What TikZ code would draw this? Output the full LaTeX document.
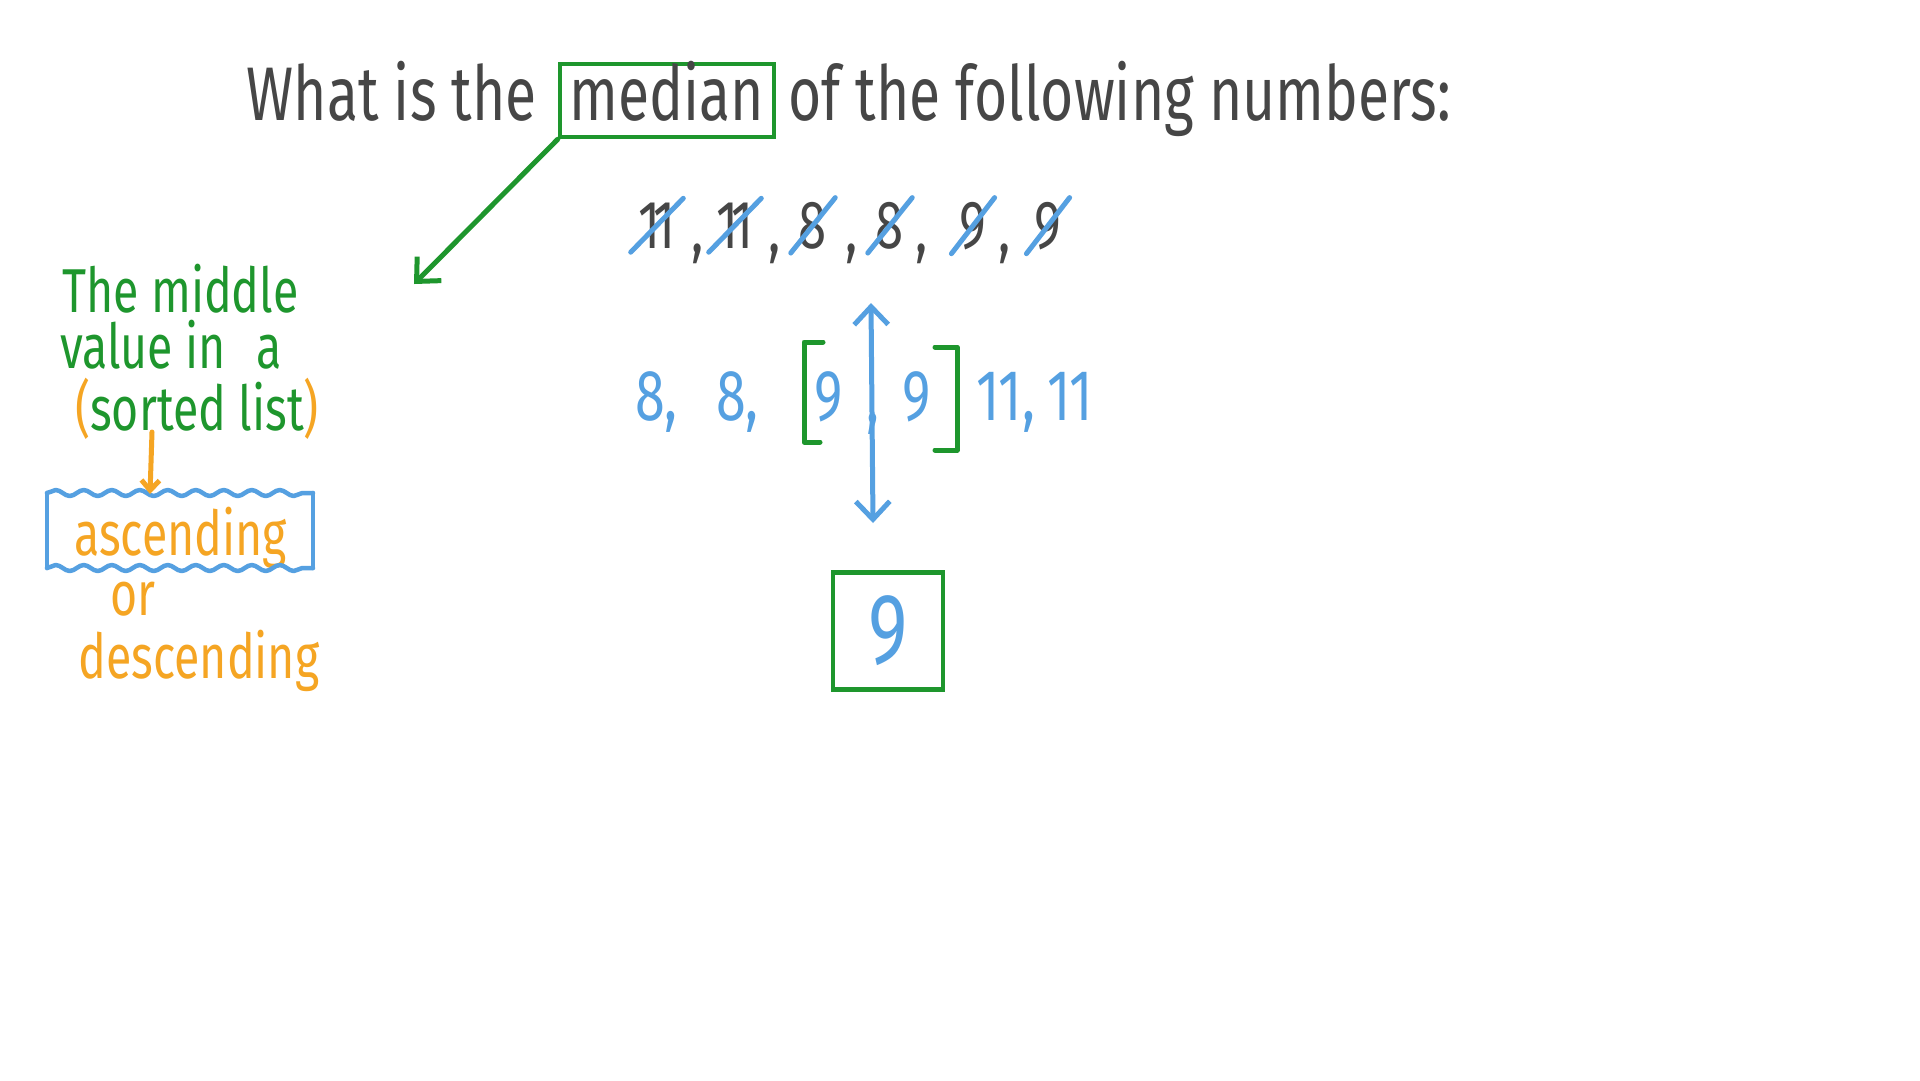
\documentclass[tikz,border=0pt]{standalone}
\usepackage{fontspec}
\setmainfont[FakeStretch=0.75]{Fira Sans}
\usetikzlibrary{arrows.meta,decorations.pathmorphing}
\definecolor{ink}{RGB}{70,70,70}
\definecolor{mgreen}{RGB}{30,150,45}
\definecolor{mblue}{RGB}{85,160,225}
\definecolor{morange}{RGB}{245,165,35}
\tikzset{
  title/.style={inner sep=0pt, text=ink, font=\fontsize{76}{90}\selectfont},
  cnum/.style={inner sep=0pt, text=ink, font=\fontsize{68}{82}\selectfont},
  snum/.style={inner sep=0pt, text=mblue, font=\fontsize{72}{86}\selectfont},
  note/.style={inner sep=0pt, font=\fontsize{62}{74}\selectfont},
  pen/.style={line width=5pt, line cap=round, line join=round},
  slash/.style={pen, mblue},
  gbox/.style={draw=mgreen, line width=4.5pt},
  wavy/.style={pen, mblue, line width=4.5pt, decorate,
    decoration={snake, amplitude=3pt, segment length=28pt}},
  barb/.style={-{Straight Barb[length=18pt,width=34pt]}}
}
\begin{document}
\begin{tikzpicture}[x=1pt, y=-1pt]
  \fill[white] (0,0) rectangle (1920,1080);
  \useasboundingbox (0,0) rectangle (1920,1080);
  % question
  \node[title, anchor=base east] (qleft) at (537,120) {What is the};
  \node[title, gbox, anchor=base, minimum width=214pt, text height=56pt, text depth=17pt] (median) at (667,120) {median};
  \node[title, anchor=base west] (qright) at (788,120) {of the following numbers:};
  \coordinate (mtip) at (414,284);
  \draw[pen, mgreen, barb] (median.south west) -- (mtip);
  % unsorted numbers, crossed out
  \node[cnum, anchor=base] (c1) at (657,248) {1\kern-8pt1};
  \node[cnum, anchor=base] (c2) at (735,248) {1\kern-8pt1};
  \node[cnum, anchor=base] (c3) at (813,248) {8};
  \node[cnum, anchor=base] (c4) at (890,248) {8};
  \node[cnum, anchor=base] (c5) at (973,248) {9};
  \node[cnum, anchor=base] (c6) at (1048,248) {9};
  \foreach \x in {698,775,852,922,1005}
    \node[cnum, anchor=base] at (\x,252) {,};
  \foreach \c in {c1,c2,c3,c4,c5,c6}
    \draw[slash] ([shift={(-8,4)}]\c.south west) -- ([shift={(8,-4)}]\c.north east);
  % sorted numbers
  \node[snum, anchor=base west] (s1) at (635,420) {8,};
  \node[snum, anchor=base west] (s2) at (716,420) {8,};
  \node[snum, anchor=base west] (s3) at (814,420) {9};
  \node[snum, anchor=base west] (sc) at (866,422) {,};
  \node[snum, anchor=base west] (s4) at (902,420) {9};
  \node[snum, anchor=base west] (s5) at (976,420) {11,\,11};
  \draw[pen, mgreen] (823,342) -- (804,342) -- (804,442) -- (820,442)
                     (935,347) -- (957,347) -- (957,450) -- (935,450);
  \coordinate (up) at (871,303);
  \coordinate (dn) at (873,523);
  \draw[pen, mblue, {Straight Barb[length=18pt,width=34pt]}-{Straight Barb[length=18pt,width=34pt]}] (up) -- (dn);
  % answer
  \node[snum, gbox, font=\fontsize{100}{120}\selectfont, minimum width=110pt, minimum height=117pt] (ans) at (888,631) {9};
  % notes
  \node[note, text=mgreen, anchor=base west] (n1) at (62,312) {The middle};
  \node[note, text=mgreen, anchor=base west] (n2) at (60,368) {value in\enspace a};
  \node[note, text=mgreen, anchor=base west] (n3) at (75,430) {\textcolor{morange}{(}sorted list\textcolor{morange}{)}};
  \node[note, text=morange, anchor=base west] (asc) at (74,555) {ascending};
  \coordinate (bnw) at (47,493);
  \coordinate (bne) at (313,493);
  \coordinate (bsw) at (47,568);
  \coordinate (bse) at (313,568);
  \draw[wavy] (bnw) -- (bne);
  \draw[wavy] (bsw) -- (bse);
  \draw[pen, mblue, line width=4.5pt] (bnw) -- (bsw) (bne) -- (bse);
  \node[note, text=morange, anchor=base west] (or) at (110,615) {or};
  \node[note, text=morange, anchor=base west] (desc) at (78,678) {descending};
  \coordinate (otop) at (152,432);
  \coordinate (obot) at (150,494);
  \draw[pen, morange, -{Straight Barb[length=10pt,width=18pt]}] (otop) -- (obot);
\end{tikzpicture}
\end{document}
